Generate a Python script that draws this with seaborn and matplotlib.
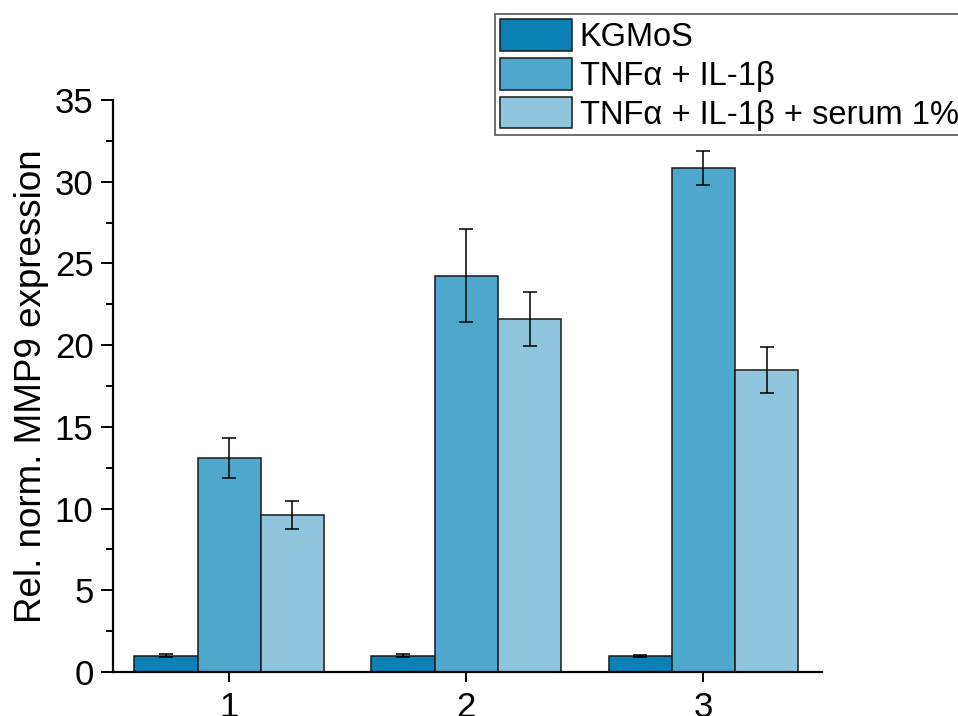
import matplotlib
matplotlib.use("Agg")
import matplotlib.pyplot as plt
from matplotlib.ticker import MultipleLocator
import numpy as np
import pandas as pd
import seaborn as sns

# Mean expression and error per donor and condition
donors = ["1", "2", "3"]
conditions = ["KGMoS", "TNFα + IL-1β", "TNFα + IL-1β + serum 1%"]
kgmos_mean = [1.0, 1.0, 1.0]
kgmos_err = [0.11, 0.09, 0.06]
tnf_mean = [13.07, 24.25, 30.82]
tnf_err = [1.22, 2.83, 1.04]
serum_mean = [9.61, 21.60, 18.48]
serum_err = [0.88, 1.67, 1.43]
colors = ["#0a80b5", "#4ea7cd", "#8fc6dd"]

means = [kgmos_mean, tnf_mean, serum_mean]
errs = [kgmos_err, tnf_err, serum_err]
df = pd.DataFrame({
    "donor": donors * 3,
    "condition": [c for c in conditions for _ in donors],
    "value": [v for m in means for v in m],
    "err": [e for es in errs for e in es],
})

sns.set_theme(style="ticks")
plt.rcParams["font.family"] = ["Liberation Sans", "DejaVu Sans"]
plt.rcParams["text.color"] = "black"
plt.rcParams["axes.labelcolor"] = "black"
plt.rcParams["xtick.color"] = "black"
plt.rcParams["ytick.color"] = "black"

fig = plt.figure(figsize=(9.58, 7.16), dpi=100)
ax = fig.add_axes([0.118, 0.0615, 0.740, 0.7988])

sns.barplot(data=df, x="donor", y="value", hue="condition", order=donors,
            hue_order=conditions, palette=colors, errorbar=None, width=0.8,
            gap=0, edgecolor="#1a1a1a", linewidth=1.1, saturation=1, ax=ax,
            legend=True)

# Error bars at the centre of each drawn bar
for cont, cond in zip(ax.containers, conditions):
    sub = df[df["condition"] == cond].set_index("donor").loc[donors]
    xs = [p.get_x() + p.get_width() / 2 for p in cont.patches]
    ax.errorbar(xs, sub["value"].values, yerr=sub["err"].values, fmt="none",
                ecolor="black", elinewidth=1.1, capsize=5, capthick=1.1,
                zorder=5)

ax.set_xlim(-0.49, 2.5)
ax.set_ylim(0, 35)
ax.yaxis.set_major_locator(MultipleLocator(5))
ax.yaxis.set_minor_locator(MultipleLocator(2.5))
ax.set_xlabel("")
ax.set_ylabel("Rel. norm. MMP9 expression", fontsize=26.5, labelpad=4,
              color="black")

for side in ["top", "right"]:
    ax.spines[side].set_visible(False)
for side in ["left", "bottom"]:
    ax.spines[side].set_linewidth(1.6)
    ax.spines[side].set_color("black")

ax.tick_params(axis="both", which="major", labelsize=25, width=1.4,
               color="black", labelcolor="black", direction="out")
ax.tick_params(axis="y", which="major", length=9, pad=5)
ax.tick_params(axis="y", which="minor", length=5, width=1.4, color="black")
ax.tick_params(axis="x", which="major", length=7, pad=7)

handles, labels = ax.get_legend_handles_labels()
ax.legend_.remove()
leg = fig.legend(handles, labels, loc="upper left",
                 bbox_to_anchor=(495 / 958, 1 - 14 / 716),
                 bbox_transform=fig.transFigure, fontsize=23.5,
                 frameon=True, fancybox=False, edgecolor="#555555",
                 framealpha=1, borderpad=0.15, borderaxespad=0,
                 handlelength=2.2, handleheight=1.12, labelspacing=0.15,
                 handletextpad=0.25)
leg.get_frame().set_linewidth(1.2)
for t in leg.get_texts():
    t.set_color("black")

fig.savefig("out.png", dpi=100, facecolor="white")
